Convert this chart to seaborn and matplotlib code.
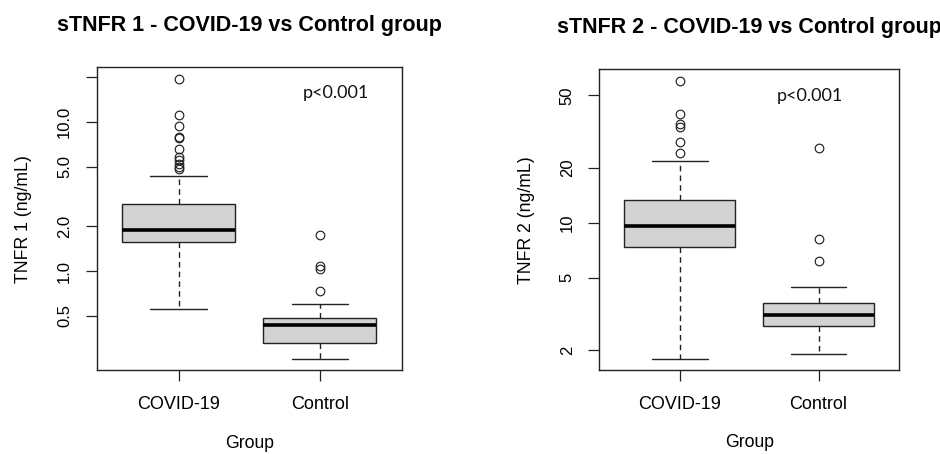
import numpy as np
import pandas as pd
import matplotlib
matplotlib.use("Agg")
import matplotlib.pyplot as plt
import seaborn as sns

# ---------------- data ----------------
groups = ["COVID-19", "Control"]
# five-number summaries: lower whisker, Q1, median, Q3, upper whisker (ng/mL)
tnfr1_covid_summary = [0.558, 1.56, 1.88, 2.80, 4.36]
tnfr1_control_summary = [0.258, 0.327, 0.432, 0.486, 0.601]
tnfr1_covid_outliers = [4.81, 5.0, 5.22, 5.56, 5.8, 6.6, 7.85, 7.9, 9.4, 11.1, 19.5]
tnfr1_control_outliers = [0.738, 1.04, 1.08, 1.76]

tnfr2_covid_summary = [1.78, 7.38, 9.63, 13.4, 21.9]
tnfr2_control_summary = [1.91, 2.71, 3.13, 3.61, 4.45]
tnfr2_covid_outliers = [24.0, 27.9, 33.4, 34.8, 39.5, 60.0]
tnfr2_control_outliers = [6.16, 8.1, 25.6]

tnfr1_ticks = [0.5, 1.0, 2.0, 5.0, 10.0, 20.0]
tnfr1_ticklabels = ["0.5", "1.0", "2.0", "5.0", "10.0", ""]
tnfr2_ticks = [2, 5, 10, 20, 50]
tnfr2_ticklabels = ["2", "5", "10", "20", "50"]

titles = ["sTNFR 1 - COVID-19 vs Control group", "sTNFR 2 - COVID-19 vs Control group"]
ylabels = ["TNFR 1 (ng/mL)", "TNFR 2 (ng/mL)"]
p_text = "p<0.001"


def sample_from_summary(summary, outliers, k=40):
    """Rebuild a sample whose quartiles/whiskers equal the read summary."""
    lo, q1, med, q3, hi = summary
    return [lo] + [q1] * k + [med] * k + [q3] * k + [hi] + list(outliers)


def make_frame(cov_sum, cov_out, ctl_sum, ctl_out):
    rows = []
    for g, s, o in [(groups[0], cov_sum, cov_out), (groups[1], ctl_sum, ctl_out)]:
        for v in sample_from_summary(s, o):
            rows.append({"Group": g, "value": v})
    return pd.DataFrame(rows)


df1 = make_frame(tnfr1_covid_summary, tnfr1_covid_outliers,
                 tnfr1_control_summary, tnfr1_control_outliers)
df2 = make_frame(tnfr2_covid_summary, tnfr2_covid_outliers,
                 tnfr2_control_summary, tnfr2_control_outliers)

# ---------------- styling ----------------
sns.set_style("white")
plt.rcParams["font.family"] = ["Liberation Sans", "DejaVu Sans"]
plt.rcParams["text.color"] = "black"
plt.rcParams["axes.labelcolor"] = "black"
plt.rcParams["xtick.color"] = "black"
plt.rcParams["ytick.color"] = "black"

W, H = 940, 454
fig = plt.figure(figsize=(W / 100, H / 100), dpi=100)


def px_axes(x0, x1, y0, y1):
    return fig.add_axes([x0 / W, 1 - y1 / H, (x1 - x0) / W, (y1 - y0) / H])


ax1 = px_axes(96.7, 401.7, 67.3, 370)
ax2 = px_axes(599.3, 899, 69.3, 370)

panels = [
    (ax1, df1, (0.217, 23.3), tnfr1_ticks, tnfr1_ticklabels, (0.784, 0.914)),
    (ax2, df2, (1.556, 69.5), tnfr2_ticks, tnfr2_ticklabels, (0.703, 0.912)),
]

for i, (ax, df, ylim, ticks, ticklabels, ppos) in enumerate(panels):
    sns.boxplot(
        data=df, x="Group", y="value", order=groups, ax=ax,
        color="#d3d3d3", saturation=1, linecolor="#222222", linewidth=1.0,
        width=0.8,
        whiskerprops={"linestyle": (0, (4, 3))},
        medianprops={"linewidth": 2.6, "color": "black"},
        flierprops={"marker": "o", "markerfacecolor": "none",
                    "markeredgecolor": "#222222", "markersize": 6.2,
                    "markeredgewidth": 0.85},
    )
    ax.set_yscale("log")
    ax.set_ylim(*ylim)
    ax.set_xlim(-0.58, 1.58)
    ax.set_yticks(ticks)
    ax.set_yticklabels(ticklabels)
    ax.yaxis.set_minor_locator(matplotlib.ticker.NullLocator())
    ax.set_xticks([0, 1])
    ax.set_xticklabels(groups)

    for sp in ax.spines.values():
        sp.set_visible(True)
        sp.set_color("#222222")
        sp.set_linewidth(1.0)

    ax.tick_params(axis="both", which="major", direction="out", length=7.7,
                   width=0.9, color="#222222", left=True, bottom=True)
    ax.tick_params(axis="y", pad=10, labelsize=12, labelrotation=90)
    ax.tick_params(axis="x", pad=11, labelsize=13)
    for lab in ax.get_yticklabels():
        lab.set_va("center")

    ax.set_title(titles[i], fontsize=15.5, fontweight="bold", pad=25.8)
    ax.set_ylabel(ylabels[i], fontsize=12.7)
    ax.yaxis.label.set_va("center")
    ax.yaxis.set_label_coords(-0.2415, 0.5)
    ax.set_xlabel("Group", fontsize=12.7)
    ax.xaxis.label.set_va("center")
    ax.xaxis.set_label_coords(0.5, -0.242)

    ax.text(ppos[0], ppos[1], p_text, transform=ax.transAxes,
            ha="center", va="center", fontsize=13, family=["Lato", "DejaVu Sans"],
            color="#111111")

fig.savefig("out.png", dpi=100)
